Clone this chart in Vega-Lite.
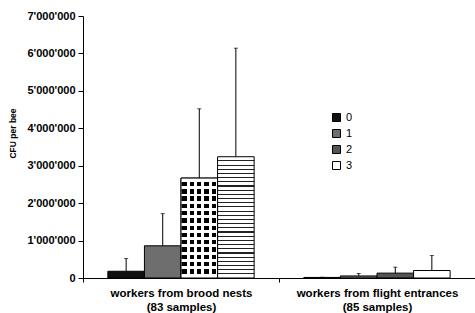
{
  "$schema": "https://vega.github.io/schema/vega-lite/v6.json",
  "width": 392,
  "height": 262,
  "autosize": "none",
  "padding": {"left": 83, "top": 16, "right": 0, "bottom": 35},
  "background": "white",
  "config": {
    "view": {"stroke": null},
    "font": "Liberation Sans",
    "locale": {"number": {"decimal": ".", "thousands": "'", "grouping": [3], "currency": ["", ""]}}
  },
  "data": {
    "values": [
      {"group": "workers from brood nests (83 samples)", "level": "0", "value": 180000, "upper": 520000},
      {"group": "workers from brood nests (83 samples)", "level": "1", "value": 860000, "upper": 1720000},
      {"group": "workers from brood nests (83 samples)", "level": "2", "value": 2670000, "upper": 4520000},
      {"group": "workers from brood nests (83 samples)", "level": "3", "value": 3240000, "upper": 6140000},
      {"group": "workers from flight entrances (85 samples)", "level": "0", "value": 15000, "upper": 20000},
      {"group": "workers from flight entrances (85 samples)", "level": "1", "value": 55000, "upper": 120000},
      {"group": "workers from flight entrances (85 samples)", "level": "2", "value": 130000, "upper": 290000},
      {"group": "workers from flight entrances (85 samples)", "level": "3", "value": 200000, "upper": 600000}
    ]
  },
  "encoding": {
    "x": {
      "field": "group", "type": "nominal", "sort": null,
      "scale": {"paddingInner": 0, "paddingOuter": 0},
      "axis": {
        "title": null, "labelAngle": 0, "tickBand": "extent", "tickSize": 4,
        "domainColor": "black", "tickColor": "black",
        "labelFontWeight": "bold", "labelFontSize": 11.5, "labelColor": "black",
        "labelPadding": 5, "labelLineHeight": 14, "labelBaseline": "top",
        "labelExpr": "isString(datum.value) ? [slice(datum.value, 0, indexof(datum.value, ' (')), slice(datum.value, indexof(datum.value, ' (') + 1)] : ''"
      }
    },
    "xOffset": {"field": "level", "type": "nominal", "scale": {"paddingInner": 0, "paddingOuter": 0.68}},
    "y": {
      "field": "value", "type": "quantitative", "title": "CFU per bee",
      "scale": {"domain": [0, 7000000], "nice": false},
      "axis": {
        "values": [0, 1000000, 2000000, 3000000, 4000000, 5000000, 6000000, 7000000],
        "format": ",d", "grid": false, "domainColor": "black", "tickColor": "black",
        "tickSize": 5, "labelPadding": 3, "labelFontWeight": "bold", "labelFontSize": 11,
        "labelColor": "black", "labelOverlap": false, "titleFontSize": 8.5, "titleFontWeight": "bold",
        "titleColor": "black", "titlePadding": 9, "titleY": 117
      }
    }
  },
  "layer": [
    {
      "mark": {"type": "bar", "stroke": "black", "strokeWidth": 1},
      "encoding": {
        "fill": {
          "condition": [
            {
              "test": "indexof(datum.group, 'brood') >= 0 && datum.level == '3'",
              "value": {
                "gradient": "linear", "x1": 0, "y1": 0, "x2": 0, "y2": 1,
                "stops": [
                  {"offset": 0, "color": "#fff"},
                  {"offset": 0.030, "color": "#fff"}, {"offset": 0.030, "color": "#222"}, {"offset": 0.039, "color": "#222"}, {"offset": 0.039, "color": "#fff"},
                  {"offset": 0.0645, "color": "#fff"}, {"offset": 0.0645, "color": "#222"}, {"offset": 0.0735, "color": "#222"}, {"offset": 0.0735, "color": "#fff"},
                  {"offset": 0.099, "color": "#fff"}, {"offset": 0.099, "color": "#222"}, {"offset": 0.108, "color": "#222"}, {"offset": 0.108, "color": "#fff"},
                  {"offset": 0.1335, "color": "#fff"}, {"offset": 0.1335, "color": "#222"}, {"offset": 0.1425, "color": "#222"}, {"offset": 0.1425, "color": "#fff"},
                  {"offset": 0.168, "color": "#fff"}, {"offset": 0.168, "color": "#222"}, {"offset": 0.177, "color": "#222"}, {"offset": 0.177, "color": "#fff"},
                  {"offset": 0.2025, "color": "#fff"}, {"offset": 0.2025, "color": "#222"}, {"offset": 0.2115, "color": "#222"}, {"offset": 0.2115, "color": "#fff"},
                  {"offset": 0.237, "color": "#fff"}, {"offset": 0.237, "color": "#222"}, {"offset": 0.246, "color": "#222"}, {"offset": 0.246, "color": "#fff"},
                  {"offset": 0.2715, "color": "#fff"}, {"offset": 0.2715, "color": "#222"}, {"offset": 0.2805, "color": "#222"}, {"offset": 0.2805, "color": "#fff"},
                  {"offset": 0.306, "color": "#fff"}, {"offset": 0.306, "color": "#222"}, {"offset": 0.315, "color": "#222"}, {"offset": 0.315, "color": "#fff"},
                  {"offset": 0.3405, "color": "#fff"}, {"offset": 0.3405, "color": "#222"}, {"offset": 0.3495, "color": "#222"}, {"offset": 0.3495, "color": "#fff"},
                  {"offset": 0.375, "color": "#fff"}, {"offset": 0.375, "color": "#222"}, {"offset": 0.384, "color": "#222"}, {"offset": 0.384, "color": "#fff"},
                  {"offset": 0.4095, "color": "#fff"}, {"offset": 0.4095, "color": "#222"}, {"offset": 0.4185, "color": "#222"}, {"offset": 0.4185, "color": "#fff"},
                  {"offset": 0.444, "color": "#fff"}, {"offset": 0.444, "color": "#222"}, {"offset": 0.453, "color": "#222"}, {"offset": 0.453, "color": "#fff"},
                  {"offset": 0.4785, "color": "#fff"}, {"offset": 0.4785, "color": "#222"}, {"offset": 0.4875, "color": "#222"}, {"offset": 0.4875, "color": "#fff"},
                  {"offset": 0.513, "color": "#fff"}, {"offset": 0.513, "color": "#222"}, {"offset": 0.522, "color": "#222"}, {"offset": 0.522, "color": "#fff"},
                  {"offset": 0.5475, "color": "#fff"}, {"offset": 0.5475, "color": "#222"}, {"offset": 0.5565, "color": "#222"}, {"offset": 0.5565, "color": "#fff"},
                  {"offset": 0.582, "color": "#fff"}, {"offset": 0.582, "color": "#222"}, {"offset": 0.591, "color": "#222"}, {"offset": 0.591, "color": "#fff"},
                  {"offset": 0.6165, "color": "#fff"}, {"offset": 0.6165, "color": "#222"}, {"offset": 0.6255, "color": "#222"}, {"offset": 0.6255, "color": "#fff"},
                  {"offset": 0.651, "color": "#fff"}, {"offset": 0.651, "color": "#222"}, {"offset": 0.66, "color": "#222"}, {"offset": 0.66, "color": "#fff"},
                  {"offset": 0.6855, "color": "#fff"}, {"offset": 0.6855, "color": "#222"}, {"offset": 0.6945, "color": "#222"}, {"offset": 0.6945, "color": "#fff"},
                  {"offset": 0.72, "color": "#fff"}, {"offset": 0.72, "color": "#222"}, {"offset": 0.729, "color": "#222"}, {"offset": 0.729, "color": "#fff"},
                  {"offset": 0.7545, "color": "#fff"}, {"offset": 0.7545, "color": "#222"}, {"offset": 0.7635, "color": "#222"}, {"offset": 0.7635, "color": "#fff"},
                  {"offset": 0.789, "color": "#fff"}, {"offset": 0.789, "color": "#222"}, {"offset": 0.798, "color": "#222"}, {"offset": 0.798, "color": "#fff"},
                  {"offset": 0.8235, "color": "#fff"}, {"offset": 0.8235, "color": "#222"}, {"offset": 0.8325, "color": "#222"}, {"offset": 0.8325, "color": "#fff"},
                  {"offset": 0.858, "color": "#fff"}, {"offset": 0.858, "color": "#222"}, {"offset": 0.867, "color": "#222"}, {"offset": 0.867, "color": "#fff"},
                  {"offset": 0.8925, "color": "#fff"}, {"offset": 0.8925, "color": "#222"}, {"offset": 0.9015, "color": "#222"}, {"offset": 0.9015, "color": "#fff"},
                  {"offset": 0.927, "color": "#fff"}, {"offset": 0.927, "color": "#222"}, {"offset": 0.936, "color": "#222"}, {"offset": 0.936, "color": "#fff"},
                  {"offset": 0.9615, "color": "#fff"}, {"offset": 0.9615, "color": "#222"}, {"offset": 0.9705, "color": "#222"}, {"offset": 0.9705, "color": "#fff"},
                  {"offset": 1, "color": "#fff"}
                ]
              }
            },
            {
              "test": "indexof(datum.group, 'brood') >= 0 && datum.level == '2'",
              "value": {
                "gradient": "linear", "x1": 0, "y1": 0, "x2": 1, "y2": 0,
                "stops": [
                  {"offset": 0, "color": "#fff"},
                  {"offset": 0.04, "color": "#fff"}, {"offset": 0.04, "color": "#000"}, {"offset": 0.16, "color": "#000"}, {"offset": 0.16, "color": "#fff"},
                  {"offset": 0.24, "color": "#fff"}, {"offset": 0.24, "color": "#000"}, {"offset": 0.36, "color": "#000"}, {"offset": 0.36, "color": "#fff"},
                  {"offset": 0.44, "color": "#fff"}, {"offset": 0.44, "color": "#000"}, {"offset": 0.56, "color": "#000"}, {"offset": 0.56, "color": "#fff"},
                  {"offset": 0.64, "color": "#fff"}, {"offset": 0.64, "color": "#000"}, {"offset": 0.76, "color": "#000"}, {"offset": 0.76, "color": "#fff"},
                  {"offset": 0.84, "color": "#fff"}, {"offset": 0.84, "color": "#000"}, {"offset": 0.96, "color": "#000"}, {"offset": 0.96, "color": "#fff"},
                  {"offset": 1, "color": "#fff"}
                ]
              }
            }
          ],
          "field": "level", "type": "nominal",
          "scale": {"range": ["#111111", "#6e6e6e", "#555555", "#ffffff"]},
          "legend": {
            "orient": "none", "legendX": 248, "legendY": 96, "title": null,
            "symbolType": "square", "symbolSize": 64, "symbolStrokeColor": "black",
            "symbolStrokeWidth": 1, "labelFontSize": 11, "labelColor": "black",
            "rowPadding": 3, "padding": 0, "labelOffset": 4
          }
        }
      }
    },
    {
      "transform": [{"filter": "indexof(datum.group, 'brood') >= 0 && datum.level == '2'"}],
      "mark": {
        "type": "bar", "stroke": "black", "strokeWidth": 1,
        "fill": {
          "gradient": "linear", "x1": 0, "y1": 0, "x2": 0, "y2": 1,
          "stops": [
            {"offset": 0, "color": "#fff"},
            {"offset": 0.038, "color": "#fff"}, {"offset": 0.038, "color": "rgba(255,255,255,0)"}, {"offset": 0.082, "color": "rgba(255,255,255,0)"}, {"offset": 0.082, "color": "#fff"},
            {"offset": 0.1108, "color": "#fff"}, {"offset": 0.1108, "color": "rgba(255,255,255,0)"}, {"offset": 0.1548, "color": "rgba(255,255,255,0)"}, {"offset": 0.1548, "color": "#fff"},
            {"offset": 0.1836, "color": "#fff"}, {"offset": 0.1836, "color": "rgba(255,255,255,0)"}, {"offset": 0.2276, "color": "rgba(255,255,255,0)"}, {"offset": 0.2276, "color": "#fff"},
            {"offset": 0.2564, "color": "#fff"}, {"offset": 0.2564, "color": "rgba(255,255,255,0)"}, {"offset": 0.3004, "color": "rgba(255,255,255,0)"}, {"offset": 0.3004, "color": "#fff"},
            {"offset": 0.3292, "color": "#fff"}, {"offset": 0.3292, "color": "rgba(255,255,255,0)"}, {"offset": 0.3732, "color": "rgba(255,255,255,0)"}, {"offset": 0.3732, "color": "#fff"},
            {"offset": 0.402, "color": "#fff"}, {"offset": 0.402, "color": "rgba(255,255,255,0)"}, {"offset": 0.446, "color": "rgba(255,255,255,0)"}, {"offset": 0.446, "color": "#fff"},
            {"offset": 0.4748, "color": "#fff"}, {"offset": 0.4748, "color": "rgba(255,255,255,0)"}, {"offset": 0.5188, "color": "rgba(255,255,255,0)"}, {"offset": 0.5188, "color": "#fff"},
            {"offset": 0.5476, "color": "#fff"}, {"offset": 0.5476, "color": "rgba(255,255,255,0)"}, {"offset": 0.5916, "color": "rgba(255,255,255,0)"}, {"offset": 0.5916, "color": "#fff"},
            {"offset": 0.6204, "color": "#fff"}, {"offset": 0.6204, "color": "rgba(255,255,255,0)"}, {"offset": 0.6644, "color": "rgba(255,255,255,0)"}, {"offset": 0.6644, "color": "#fff"},
            {"offset": 0.6932, "color": "#fff"}, {"offset": 0.6932, "color": "rgba(255,255,255,0)"}, {"offset": 0.7372, "color": "rgba(255,255,255,0)"}, {"offset": 0.7372, "color": "#fff"},
            {"offset": 0.766, "color": "#fff"}, {"offset": 0.766, "color": "rgba(255,255,255,0)"}, {"offset": 0.81, "color": "rgba(255,255,255,0)"}, {"offset": 0.81, "color": "#fff"},
            {"offset": 0.8388, "color": "#fff"}, {"offset": 0.8388, "color": "rgba(255,255,255,0)"}, {"offset": 0.8828, "color": "rgba(255,255,255,0)"}, {"offset": 0.8828, "color": "#fff"},
            {"offset": 0.9116, "color": "#fff"}, {"offset": 0.9116, "color": "rgba(255,255,255,0)"}, {"offset": 0.9556, "color": "rgba(255,255,255,0)"}, {"offset": 0.9556, "color": "#fff"},
            {"offset": 1, "color": "#fff"}
          ]
        }
      }
    },
    {
      "mark": {"type": "rule", "color": "black", "strokeWidth": 1},
      "encoding": {
        "y2": {"field": "upper"}
      }
    },
    {
      "mark": {"type": "tick", "color": "black", "thickness": 1, "size": 4},
      "encoding": {
        "y": {
          "field": "upper", "type": "quantitative", "title": "CFU per bee",
          "axis": {
            "values": [0, 1000000, 2000000, 3000000, 4000000, 5000000, 6000000, 7000000],
            "format": ",d", "grid": false, "domainColor": "black", "tickColor": "black",
            "tickSize": 5, "labelPadding": 3, "labelFontWeight": "bold", "labelFontSize": 11,
            "labelColor": "black", "labelOverlap": false, "titleFontSize": 8.5, "titleFontWeight": "bold",
            "titleColor": "black", "titlePadding": 9, "titleY": 117
          }
        }
      }
    }
  ]
}
